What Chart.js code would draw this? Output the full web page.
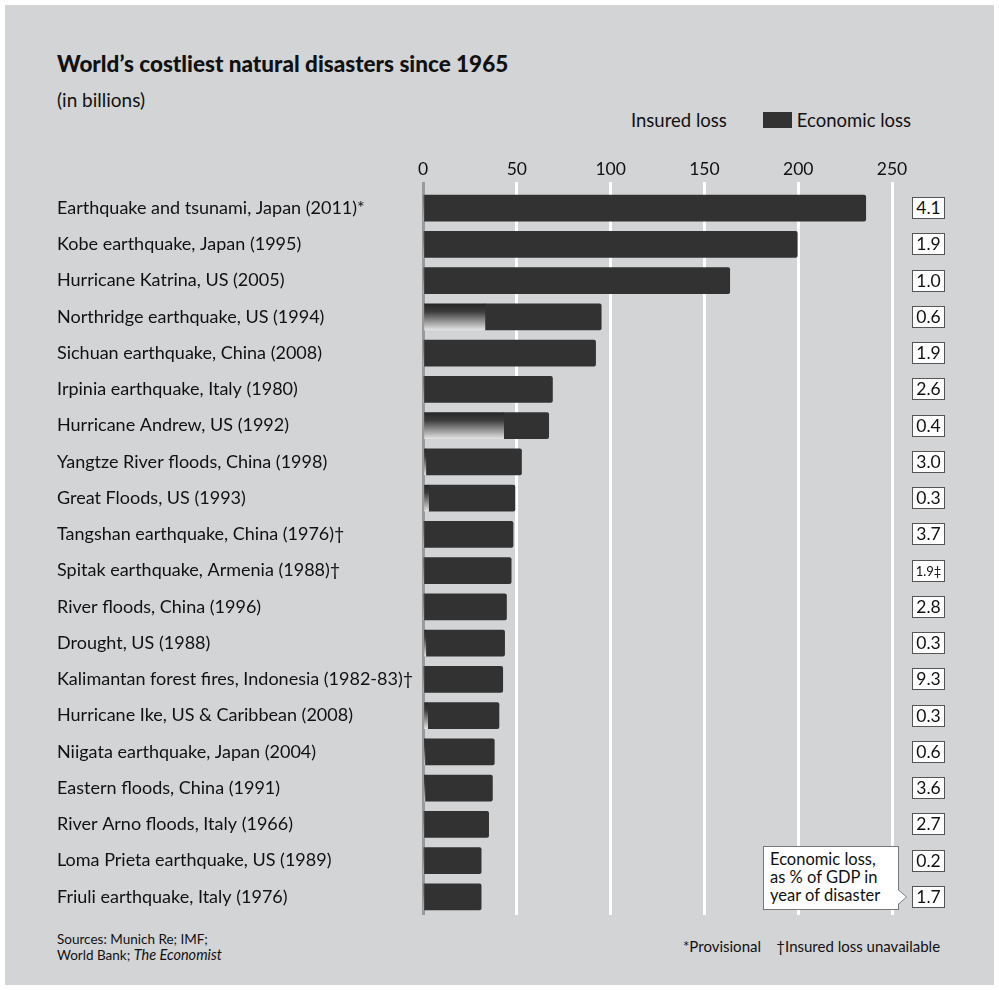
<!DOCTYPE html>
<html>
<head>
<meta charset="utf-8">
<script src="https://cdn.jsdelivr.net/npm/chart.js@4.4.1/dist/chart.umd.min.js"></script>
<style>
    html, body { margin: 0; padding: 0; background: #fff; }
    body { width: 999px; height: 990px; position: relative; overflow: hidden; font-family: 'Lato', 'Open Sans', sans-serif; color: #111; }
    #panel { position: absolute; left: 5px; top: 5px; width: 989px; height: 980px; background: #d3d4d6; }
    .abs { position: absolute; white-space: nowrap; }
    #title { left: 57px; top: 50px; font-size: 22.5px; font-weight: 900; }
    #sub { left: 57px; top: 88px; font-size: 19px; }
    #legend { left: 631px; top: 109px; font-size: 18.5px; display: flex; align-items: center; }
    #legend .sw { display: inline-block; width: 29px; height: 16px; background: #323232; margin: 0 5px 0 36px; }
    #chart-wrap { position: absolute; left: 0; top: 140px; width: 999px; height: 790px; }
    .gdp { position: absolute; left: 912px; width: 31px; height: 20px; background: #fff; border: 1px solid #555; font-size: 17.5px; text-align: center; line-height: 20px; }
    .gdp.small { font-size: 13px; }
    #callout { left: 763px; top: 846px; width: 122px; height: 56px; padding: 3px 6px 3px 6px; background: #fff; border: 1px solid #777; font-size: 16.5px; line-height: 18px; }
    #callout:after { content: ''; position: absolute; right: -8px; top: 43px; border-left: 8px solid #fff; border-top: 7px solid transparent; border-bottom: 7px solid transparent; }
    #callout:before { content: ''; position: absolute; right: -9px; top: 42px; border-left: 9px solid #777; border-top: 8px solid transparent; border-bottom: 8px solid transparent; }
    #sources { left: 57px; top: 932px; font-size: 13.5px; line-height: 15px; }
    #sources i { font-size: 14.5px; }
    #notes { left: 683px; top: 937px; font-size: 15px; }
</style>
</head>
<body>
<div id="panel"></div>
<div id="title" class="abs">World’s costliest natural disasters since 1965</div>
<div id="sub" class="abs">(in billions)</div>
<div id="legend" class="abs"><span>Insured loss</span><span class="sw"></span><span>Economic loss</span></div>
<div id="chart-wrap"><canvas id="disasters-chart" width="999" height="790"></canvas></div>
<div id="gdp-boxes"></div>
<div id="callout" class="abs">Economic loss,<br>as % of GDP in<br>year of disaster</div>
<div id="sources" class="abs">Sources: Munich Re; IMF;<br>World Bank; <i>The Economist</i></div>
<div id="notes" class="abs">*Provisional &nbsp;&nbsp; †Insured loss unavailable</div>

<script>
const disasters = [
    'Earthquake and tsunami, Japan (2011)*',
    'Kobe earthquake, Japan (1995)',
    'Hurricane Katrina, US (2005)',
    'Northridge earthquake, US (1994)',
    'Sichuan earthquake, China (2008)',
    'Irpinia earthquake, Italy (1980)',
    'Hurricane Andrew, US (1992)',
    'Yangtze River floods, China (1998)',
    'Great Floods, US (1993)',
    'Tangshan earthquake, China (1976)†',
    'Spitak earthquake, Armenia (1988)†',
    'River floods, China (1996)',
    'Drought, US (1988)',
    'Kalimantan forest fires, Indonesia (1982-83)†',
    'Hurricane Ike, US & Caribbean (2008)',
    'Niigata earthquake, Japan (2004)',
    'Eastern floods, China (1991)',
    'River Arno floods, Italy (1966)',
    'Loma Prieta earthquake, US (1989)',
    'Friuli earthquake, Italy (1976)'
];
const economicLoss = [236, 199.5, 163.5, 95, 92, 69, 67, 52.5, 49, 48, 47, 44.5, 43.5, 42.5, 40.5, 38, 37, 35, 31, 31];
const insuredLoss = [0, 0, 0, 33, 0, 0, 43, 1.5, 3, 0, 0, 0, 1.5, 0, 2.5, 1, 1, 0, 0, 0];
const gdpShare = ['4.1', '1.9', '1.0', '0.6', '1.9', '2.6', '0.4', '3.0', '0.3', '3.7', '1.9‡', '2.8', '0.3', '9.3', '0.3', '0.6', '3.6', '2.7', '0.2', '1.7'];
const xTicks = [0, 50, 100, 150, 200, 250];

const textColor = '#111111';
const barColor = '#323232';

// economic bar is drawn as the part beyond the insured slice
const uninsured = economicLoss.map((v, i) => v - insuredLoss[i]);

function insuredFill(context) {
    const chart = context.chart;
    const yScale = chart.scales.y;
    if (!yScale || !chart.chartArea) return barColor;
    const yc = yScale.getPixelForValue(context.dataIndex);
    const g = chart.ctx.createLinearGradient(0, yc - 13, 0, yc + 13);
    g.addColorStop(0, '#262626');
    g.addColorStop(0.3, '#3c3c3c');
    g.addColorStop(1, '#e2e2e2');
    return g;
}

const chart = new Chart(document.getElementById('disasters-chart').getContext('2d'), {
    type: 'bar',
    data: {
        labels: disasters,
        datasets: [
            {
                label: 'Insured loss',
                data: insuredLoss,
                backgroundColor: insuredFill,
                borderWidth: 0,
                barThickness: 26
            },
            {
                label: 'Economic loss',
                data: uninsured,
                backgroundColor: barColor,
                borderWidth: 0,
                borderRadius: { topRight: 2, bottomRight: 2 },
                borderSkipped: 'start',
                barThickness: 26
            }
        ]
    },
    options: {
        indexAxis: 'y',
        responsive: false,
        animation: false,
        layout: { padding: { left: 57, right: 107, top: 0, bottom: 15 } },
        plugins: {
            legend: { display: false },
            tooltip: { enabled: false }
        },
        scales: {
            x: {
                position: 'top',
                stacked: true,
                min: 0,
                max: 250,
                afterBuildTicks: (scale) => { scale.ticks = xTicks.map(v => ({ value: v })); },
                afterFit: (scale) => { scale.height = 50; },
                border: { display: false },
                grid: {
                    color: (ctx) => (ctx.tick && ctx.tick.value === 0) ? '#9a9a9a' : '#ffffff',
                    lineWidth: 3,
                    tickLength: 8
                },
                ticks: {
                    color: textColor,
                    padding: 2,
                    font: { family: 'Lato', size: 17.5 }
                }
            },
            y: {
                stacked: true,
                afterFit: (scale) => { scale.width = 366; },
                border: { display: false },
                grid: { display: false },
                ticks: {
                    color: textColor,
                    crossAlign: 'far',
                    autoSkip: false,
                    font: { family: 'Lato', size: 18 }
                }
            }
        }
    }
});

// GDP share boxes, placed on the chart's own category scale
const boxHolder = document.getElementById('gdp-boxes');
const wrapTop = 140;
gdpShare.forEach((txt, i) => {
    const y = chart.scales.y.getPixelForValue(i) + wrapTop;
    const d = document.createElement('div');
    d.className = 'gdp' + (txt.includes('‡') ? ' small' : '');
    d.style.top = (y - 11) + 'px';
    d.textContent = txt;
    boxHolder.appendChild(d);
});
</script>
</body>
</html>
